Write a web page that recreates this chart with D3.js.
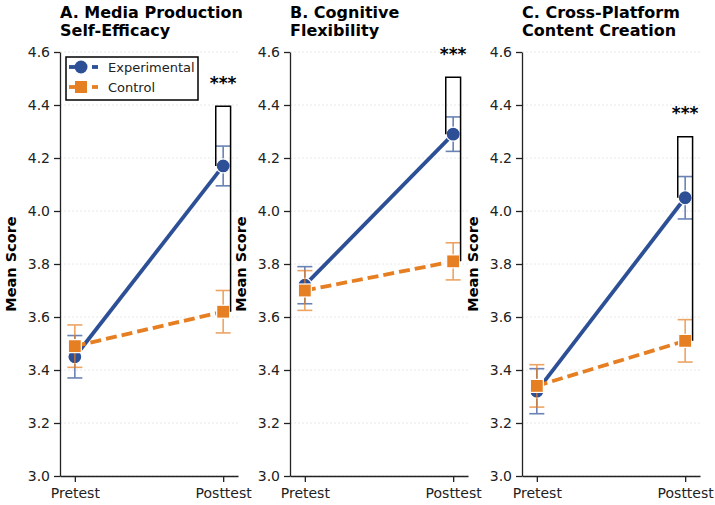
<!DOCTYPE html>
<html>
<head>
<meta charset="utf-8">
<script src="https://cdn.jsdelivr.net/npm/d3@7"></script>
<style>
  body { margin: 0; background: #fff; }
  text { font-family: "DejaVu Sans", sans-serif; }
</style>
</head>
<body>
<script>
(function () {
    'use strict';

    // data
    const panelTitles = [
        ["A. Media Production", "Self-Efficacy"],
        ["B. Cognitive", "Flexibility"],
        ["C. Cross-Platform", "Content Creation"]
    ];
    const timeLabels = ["Pretest", "Posttest"];
    const yTicks = [3.0, 3.2, 3.4, 3.6, 3.8, 4.0, 4.2, 4.4, 4.6];
    const seriesNames = ["Experimental", "Control"];

    const expMean = [[3.45, 4.17], [3.72, 4.29], [3.32, 4.05]];
    const expErr = [[0.08, 0.075], [0.07, 0.065], [0.085, 0.08]];
    const ctrlMean = [[3.49, 3.62], [3.70, 3.81], [3.34, 3.51]];
    const ctrlErr = [[0.08, 0.08], [0.075, 0.07], [0.08, 0.08]];
    const sigLabels = ["***", "***", "***"];

    const width = 715;
    const height = 505;
    const panelLeft = [60, 290, 522];
    const panelW = 178;
    const plotTop = 52;
    const plotBottom = 476;

    const blue = "#2c4f96";
    const orange = "#e67e22";

    const svg = d3.select("body").append("svg")
        .attr("width", width)
        .attr("height", height);

    const y = d3.scaleLinear().domain([3.0, 4.6]).range([plotBottom, plotTop]);

    panelTitles.forEach((title, i) => {
        const x = d3.scaleLinear().domain([-0.1, 1.1])
            .range([panelLeft[i], panelLeft[i] + panelW]);
        const g = svg.append("g");

        // faint grid
        g.selectAll(".grid").data(yTicks).join("line")
            .attr("x1", x.range()[0]).attr("x2", x.range()[1])
            .attr("y1", d => y(d)).attr("y2", d => y(d))
            .attr("stroke", "#e2e2e2").attr("stroke-width", 0.8)
            .attr("stroke-dasharray", "2,2");

        // axes
        const yAxis = g.append("g")
            .attr("transform", `translate(${panelLeft[i]},0)`)
            .call(d3.axisLeft(y).tickValues(yTicks).tickFormat(d3.format(".1f"))
                .tickSize(6).tickSizeOuter(0).tickPadding(4));
        const xAxis = g.append("g")
            .attr("transform", `translate(0,${plotBottom})`)
            .call(d3.axisBottom(x).tickValues([0, 1]).tickFormat(j => timeLabels[j])
                .tickSize(6).tickSizeOuter(0).tickPadding(6));
        [yAxis, xAxis].forEach(a => {
            a.select(".domain").attr("stroke", "#222").attr("stroke-width", 1.3);
            a.selectAll(".tick line").attr("stroke", "#222").attr("stroke-width", 1.3);
            a.selectAll(".tick text").attr("fill", "#222").style("font-size", "14px")
                .style("font-family", "DejaVu Sans");
        });

        // title
        g.append("text")
            .attr("x", panelLeft[i]).attr("y", 17.5)
            .style("font-size", "16px").style("font-weight", "bold")
            .selectAll("tspan").data(title).join("tspan")
            .attr("x", panelLeft[i]).attr("dy", (d, k) => k === 0 ? 0 : 18.5)
            .text(d => d);

        // y label
        g.append("text")
            .attr("transform", `translate(${panelLeft[i] - 44},${(plotTop + plotBottom) / 2}) rotate(-90)`)
            .attr("text-anchor", "middle")
            .style("font-size", "14.5px").style("font-weight", "bold")
            .text("Mean Score");

        const series = [
            {mean: expMean[i], err: expErr[i], color: blue, dash: null, shape: "circle"},
            {mean: ctrlMean[i], err: ctrlErr[i], color: orange, dash: "11,5", shape: "square"}
        ];

        series.forEach(s => {
            const pts = s.mean.map((m, j) => ({j, m, e: s.err[j]}));
            const eb = g.append("g").attr("stroke", s.color)
                .attr("stroke-width", 1.6).attr("opacity", 0.7);
            eb.selectAll(".v").data(pts).join("line")
                .attr("x1", d => x(d.j)).attr("x2", d => x(d.j))
                .attr("y1", d => y(d.m - d.e)).attr("y2", d => y(d.m + d.e));
            eb.selectAll(".c").data(pts.flatMap(d => [d.m - d.e, d.m + d.e].map(v => ({j: d.j, v}))))
                .join("line")
                .attr("x1", d => x(d.j) - 7.5).attr("x2", d => x(d.j) + 7.5)
                .attr("y1", d => y(d.v)).attr("y2", d => y(d.v));

            g.append("path")
                .datum(pts)
                .attr("fill", "none").attr("stroke", s.color)
                .attr("stroke-width", 3.8)
                .attr("stroke-dasharray", s.dash)
                .attr("d", d3.line().x(d => x(d.j)).y(d => y(d.m)));

            if (s.shape === "circle") {
                g.selectAll(".mc").data(pts).join("circle")
                    .attr("cx", d => x(d.j)).attr("cy", d => y(d.m)).attr("r", 7)
                    .attr("fill", s.color).attr("stroke", "#fff").attr("stroke-width", 1.2);
            } else {
                g.selectAll(".ms").data(pts).join("rect")
                    .attr("x", d => x(d.j) - 6.5).attr("y", d => y(d.m) - 6.5)
                    .attr("width", 13).attr("height", 13)
                    .attr("fill", s.color).attr("stroke", "#fff").attr("stroke-width", 1.2);
            }
        });

        // significance bracket at posttest
        const topVal = Math.max(expMean[i][1] + expErr[i][1], ctrlMean[i][1] + ctrlErr[i][1]) + 0.15;
        const br = [[0.95, expMean[i][1]], [0.95, topVal], [1.05, topVal], [1.05, ctrlMean[i][1]]];
        g.append("path")
            .attr("fill", "none").attr("stroke", "#000").attr("stroke-width", 1.5)
            .attr("d", d3.line().x(d => x(d[0])).y(d => y(d[1]))(br));
        g.append("text")
            .attr("x", x(1)).attr("y", y(topVal + 0.1) + 9)
            .attr("text-anchor", "middle")
            .style("font-size", "17px").style("font-weight", "bold")
            .text(sigLabels[i]);

        // legend in first panel
        if (i === 0) {
            const lg = g.append("g");
            lg.append("rect")
                .attr("x", 66).attr("y", 57).attr("width", 132).attr("height", 43)
                .attr("fill", "#fff").attr("stroke", "#000").attr("stroke-width", 1.5);
            series.forEach((s, k) => {
                const cy = 67 + k * 20;
                lg.append("line").attr("x1", 69).attr("x2", 75).attr("y1", cy).attr("y2", cy)
                    .attr("stroke", s.color).attr("stroke-width", 3.8);
                lg.append("line").attr("x1", 92).attr("x2", 98).attr("y1", cy).attr("y2", cy)
                    .attr("stroke", s.color).attr("stroke-width", 3.8);
                if (s.shape === "circle") {
                    lg.append("circle").attr("cx", 81).attr("cy", cy).attr("r", 6.5)
                        .attr("fill", s.color);
                } else {
                    lg.append("rect").attr("x", 75).attr("y", cy - 6).attr("width", 12).attr("height", 12)
                        .attr("fill", s.color);
                }
                lg.append("text").attr("x", 108).attr("y", cy + 5)
                    .style("font-size", "13px").attr("fill", "#222")
                    .text(seriesNames[k]);
            });
        }
    });
}());
</script>
</body>
</html>
